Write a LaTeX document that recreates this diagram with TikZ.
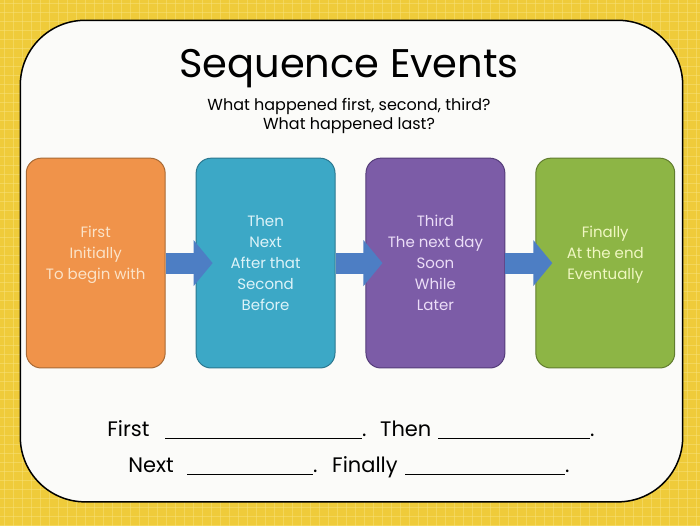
\documentclass[tikz,border=0pt]{standalone}
\usepackage{fontspec}
\setmainfont{Poppins}
\usetikzlibrary{positioning, arrows.meta}
\definecolor{bgyellow}{HTML}{EFCB3A}
\definecolor{bglight}{HTML}{F8E27A}
\definecolor{panel}{HTML}{FBFBF9}
\definecolor{orfill}{HTML}{F0934A}\definecolor{ordraw}{HTML}{A86A35}\definecolor{ortext}{HTML}{FBE3C8}
\definecolor{tefill}{HTML}{3CA8C6}\definecolor{tedraw}{HTML}{2B7890}\definecolor{tetext}{HTML}{DDF3F8}
\definecolor{pufill}{HTML}{7C5CA7}\definecolor{pudraw}{HTML}{553D7A}\definecolor{putext}{HTML}{EBDDF7}
\definecolor{grfill}{HTML}{8DB545}\definecolor{grdraw}{HTML}{617D2E}\definecolor{grtext}{HTML}{F0F7C2}
\definecolor{arblue}{HTML}{4D7EC4}
\newcommand\blank[1]{\rule[-2pt]{#1pt}{1.1pt}.}

\begin{document}
\begin{tikzpicture}[x=1pt,y=-1pt,
  card/.style={draw,line width=1pt,rounded corners=15pt,minimum width=139pt,minimum height=210pt,
    align=center,font=\fontsize{15}{21}\selectfont},
  seqarrow/.style={arblue,line width=21pt,-{Triangle[length=19pt,width=45pt]}},
  word/.style={anchor=base west,inner sep=0pt,font=\fontsize{21}{25}\selectfont},
  node distance=30pt]
  % background and panel
  \fill[bgyellow] (0,0) rectangle (700,526);
  \foreach \i in {4,13,...,700} \draw[bglight,line width=0.6pt,opacity=0.5] (\i,0) -- (\i,526);
  \foreach \j in {3,12,...,526} \draw[bglight,line width=0.6pt,opacity=0.5] (0,\j) -- (700,\j);
  \draw[fill=panel,line width=1.5pt,rounded corners=65pt] (20,20) rectangle (683,502);
  % title
  \node[font=\fontsize{40}{46}\selectfont] (title) at (349,68) {Sequence Events};
  \node[font=\fontsize{16}{19}\selectfont,align=center,below=4pt of title] (sub)
    {What happened first, second, third?\\What happened last?};
  % cards
  \node[card,fill=orfill,draw=ordraw,text=ortext] (first) at (95.5,263)
    {First\\Initially\\To begin with\\};
  \node[card,fill=tefill,draw=tedraw,text=tetext,right=of first] (then)
    {Then\\Next\\After that\\Second\\Before};
  \node[card,fill=pufill,draw=pudraw,text=putext,right=of then] (third)
    {Third\\The next day\\Soon\\While\\Later};
  \node[card,fill=grfill,draw=grdraw,text=grtext,right=of third] (final)
    {Finally\\At the end\\Eventually\\};
  \draw[seqarrow] (first.east) -- ([xshift=17pt]then.west);
  \draw[seqarrow] (then.east) -- ([xshift=17pt]third.west);
  \draw[seqarrow] (third.east) -- ([xshift=17pt]final.west);
  % sentence frames
  \node[word] (w1) at (107,437) {First};
  \node[word] (b1) at (165,437) {\blank{197}};
  \node[word] (w2) at (380,437) {Then};
  \node[word] (b2) at (438,437) {\blank{152}};
  \node[word] (w3) at (128,473) {Next};
  \node[word] (b3) at (187,473) {\blank{126}};
  \node[word] (w4) at (332,473) {Finally};
  \node[word] (b4) at (405,473) {\blank{160}};
\end{tikzpicture}
\end{document}
